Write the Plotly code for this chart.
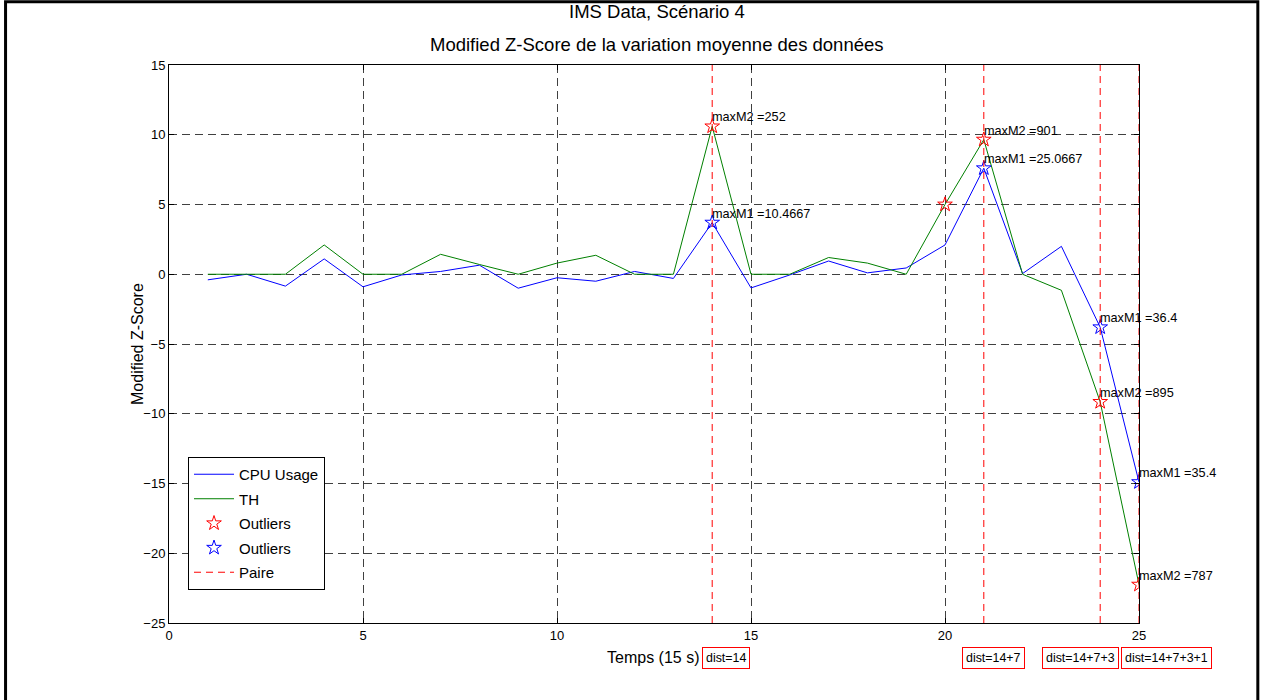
import plotly.graph_objects as go

# Time steps (15 s each)
t = list(range(1, 26))

# Modified Z-score of the mean variation, CPU usage
cpu_usage = [-0.4, 0.0, -0.85, 1.1, -0.9, -0.05, 0.2, 0.65, -1.0, -0.25,
             -0.5, 0.2, -0.3, 3.7, -0.98, -0.05, 0.95, 0.1, 0.45, 2.1,
             7.6, 0.05, 2.0, -3.8, -14.9]

# Modified Z-score of the mean variation, TH
th = [0.0, 0.0, 0.0, 2.1, 0.0, 0.0, 1.43, 0.7, 0.0, 0.8,
      1.36, 0.0, 0.0, 10.6, 0.0, 0.0, 1.2, 0.8, 0.0, 5.0,
      9.65, 0.0, -1.15, -9.15, -22.25]

# Outliers detected on each series
th_outlier_x = [14, 20, 21, 24, 25]
cpu_outlier_x = [14, 21, 24, 25]

# Paired outlier positions
pair_x = [14, 21, 24, 25]

# Labels attached to the outliers: (x, series, text)
max_labels = [
    (14, "th", "maxM2 =252"),
    (14, "cpu", "maxM1 =10.4667"),
    (21, "th", "maxM2 =901"),
    (21, "cpu", "maxM1 =25.0667"),
    (24, "cpu", "maxM1 =36.4"),
    (24, "th", "maxM2 =895"),
    (25, "cpu", "maxM1 =35.4"),
    (25, "th", "maxM2 =787"),
]

# Distance boxes below the axis
dist_labels = ["dist=14", "dist=14+7", "dist=14+7+3", "dist=14+7+3+1"]

x_ticks = [0, 5, 10, 15, 20, 25]
y_ticks = [-25, -20, -15, -10, -5, 0, 5, 10, 15]
x_range = [0, 25]
y_range = [-25, 15]

FONT = "Liberation Sans, Arial, sans-serif"
BLUE = "#0000ff"
GREEN = "#008000"
RED = "#ff0000"

series = {"cpu": cpu_usage, "th": th}


def value_at(name, x):
    return series[name][t.index(x)]


fig = go.Figure()

fig.add_trace(go.Scatter(x=t, y=cpu_usage, mode="lines", name="CPU Usage",
                         legendgroup="cpu", line=dict(color=BLUE, width=1)))
fig.add_trace(go.Scatter(x=t, y=th, mode="lines", name="TH",
                         legendgroup="th", line=dict(color=GREEN, width=1)))

fig.add_trace(go.Scatter(x=th_outlier_x, y=[value_at("th", x) for x in th_outlier_x],
                         mode="markers", name="Outliers", legendgroup="out_th",
                         marker=dict(symbol="star-open", size=11, color=RED,
                                     line=dict(width=1, color=RED))))
fig.add_trace(go.Scatter(x=cpu_outlier_x, y=[value_at("cpu", x) for x in cpu_outlier_x],
                         mode="markers", name="Outliers", legendgroup="out_cpu",
                         marker=dict(symbol="star-open", size=11, color=BLUE,
                                     line=dict(width=1, color=BLUE))))

# Paired-outlier vertical markers spanning the y axis
px, py = [], []
for x in pair_x:
    px += [x, x, None]
    py += [y_range[0], y_range[1], None]
fig.add_trace(go.Scatter(x=px, y=py, mode="lines", name="Paire", legendgroup="pair",
                         line=dict(color=RED, width=1, dash="7px,5px")))

annotations = []
for x, name, text in max_labels:
    annotations.append(dict(x=x, y=value_at(name, x), xref="x", yref="y",
                            text=text, showarrow=False, xanchor="left",
                            yanchor="middle", xshift=-2, yshift=9,
                            font=dict(family=FONT, size=12.7, color="black")))

# Distance boxes (paper coordinates)
dist_pos = [0.5745, 0.8503, 0.9392, 1.0285]
for xp, text in zip(dist_pos, dist_labels):
    annotations.append(dict(x=xp, y=-0.062, xref="paper", yref="paper",
                            text=text, showarrow=False, xanchor="center",
                            yanchor="middle", bordercolor=RED, borderwidth=1,
                            borderpad=3, bgcolor="white",
                            font=dict(family=FONT, size=12.4, color="black")))

# Titles and axis labels
annotations += [
    dict(x=0.503, y=1.095, xref="paper", yref="paper", showarrow=False,
         text="IMS Data, Scénario 4", xanchor="center", yanchor="middle",
         font=dict(family=FONT, size=18.5, color="black")),
    dict(x=0.503, y=1.036, xref="paper", yref="paper", showarrow=False,
         text="Modified Z-Score de la variation moyenne des données",
         xanchor="center", yanchor="middle",
         font=dict(family=FONT, size=18.5, color="black")),
    dict(x=0.4985, y=-0.0627, xref="paper", yref="paper", showarrow=False,
         text="Temps (15 s)", xanchor="center", yanchor="middle",
         font=dict(family=FONT, size=16, color="black")),
    dict(x=-0.033, y=0.5, xref="paper", yref="paper", showarrow=False,
         text="Modified Z-Score", textangle=-90, xanchor="center",
         yanchor="middle", font=dict(family=FONT, size=16, color="black")),
]

axis_common = dict(showline=True, linecolor="black", linewidth=1, mirror="ticks",
                   ticks="inside", ticklen=5, tickcolor="black", tickwidth=1,
                   showgrid=True, gridcolor="rgba(0,0,0,0.75)", gridwidth=1,
                   griddash="8px,5px", zeroline=False,
                   tickfont=dict(family=FONT, size=13, color="black"))

fig.update_layout(
    width=1265, height=700,
    margin=dict(l=169, r=126, t=65, b=77),
    paper_bgcolor="white", plot_bgcolor="white",
    font=dict(family=FONT, color="black"),
    xaxis=dict(range=x_range, tickvals=x_ticks, **axis_common),
    yaxis=dict(range=y_range, tickvals=y_ticks, **axis_common),
    legend=dict(x=0.0196, y=0.2975, xanchor="left", yanchor="top",
                bgcolor="white", bordercolor="black", borderwidth=1,
                font=dict(family=FONT, size=15, color="black"),
                traceorder="grouped", tracegroupgap=2, itemwidth=40),
    annotations=annotations,
    shapes=[dict(type="rect", xref="paper", yref="paper",
                 x0=-0.1685, x1=1.1225, y0=-0.3, y1=1.1135,
                 line=dict(color="black", width=3), layer="above")],
    showlegend=True,
)

fig.write_html("out.html")
